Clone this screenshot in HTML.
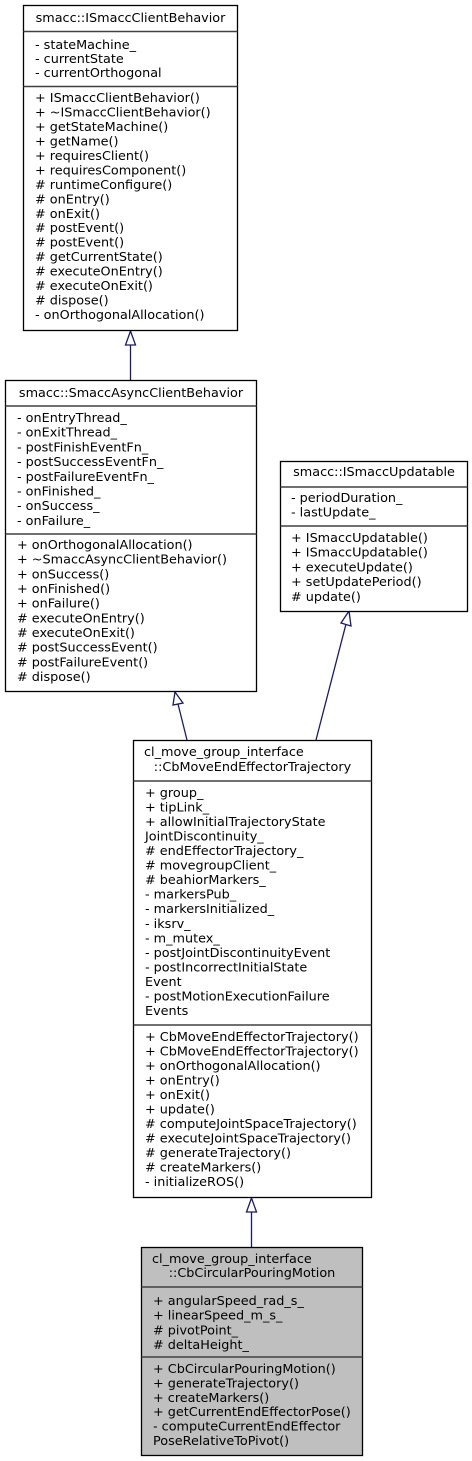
<!DOCTYPE html>
<html><head><meta charset="utf-8">
<style>
html,body{margin:0;padding:0;background:#fff;}
svg{display:block;}
text{font-family:"DejaVu Sans","Liberation Sans",sans-serif;font-size:12.8px;fill:#000;}
</style></head>
<body>
<svg width="472" height="1461" viewBox="0 0 472 1461" xmlns="http://www.w3.org/2000/svg">
<g stroke="#191970" stroke-width="1.3" fill="#fff">
<line x1="130.5" y1="380" x2="130.5" y2="345"/>
<polygon points="130.5,331 125.5,345 135.5,345"/>
<line x1="187" y1="740" x2="178" y2="704"/>
<polygon points="175,692 173,705 183,703"/>
<line x1="316" y1="740" x2="346" y2="624"/>
<polygon points="349,611 341,623 351,626"/>
<line x1="251.5" y1="1247" x2="251.5" y2="1212"/>
<polygon points="251.5,1198 246.5,1212 256.5,1212"/>
</g>
<g stroke="#000" stroke-width="1.3" fill="#fff">
<rect x="23.5" y="5.5" width="214" height="325"/>
<rect x="5.5" y="380.5" width="251" height="311"/>
<rect x="280.5" y="461.5" width="187" height="150"/>
<rect x="133.5" y="740.5" width="238" height="457"/>
<rect x="141.5" y="1247.5" width="221" height="208" fill="#bfbfbf"/>
</g>
<g stroke="#404040" stroke-width="1.5">
<line x1="23.5" y1="31.5" x2="237.5" y2="31.5"/>
<line x1="23.5" y1="86.5" x2="237.5" y2="86.5"/>
<line x1="5.5" y1="406" x2="256.5" y2="406"/>
<line x1="5.5" y1="534" x2="256.5" y2="534"/>
<line x1="280.5" y1="487" x2="467.5" y2="487"/>
<line x1="280.5" y1="526" x2="467.5" y2="526"/>
<line x1="133.5" y1="781" x2="371.5" y2="781"/>
<line x1="133.5" y1="1025" x2="371.5" y2="1025"/>
<line x1="141.5" y1="1287" x2="362.5" y2="1287"/>
<line x1="141.5" y1="1357" x2="362.5" y2="1357"/>
</g>
<text x="130.5" y="22" text-anchor="middle">smacc::ISmaccClientBehavior</text>
<text x="35" y="49">- stateMachine_</text>
<text x="35" y="63">- currentState</text>
<text x="35" y="77">- currentOrthogonal</text>
<text x="35" y="102">+ ISmaccClientBehavior()</text>
<text x="35" y="116.5">+ ~ISmaccClientBehavior()</text>
<text x="35" y="131">+ getStateMachine()</text>
<text x="35" y="145.4">+ getName()</text>
<text x="35" y="159.9">+ requiresClient()</text>
<text x="35" y="174.4">+ requiresComponent()</text>
<text x="35" y="188.8"># runtimeConfigure()</text>
<text x="35" y="203.3"># onEntry()</text>
<text x="35" y="217.8"># onExit()</text>
<text x="35" y="232.2"># postEvent()</text>
<text x="35" y="246.7"># postEvent()</text>
<text x="35" y="261.2"># getCurrentState()</text>
<text x="35" y="275.6"># executeOnEntry()</text>
<text x="35" y="290.1"># executeOnExit()</text>
<text x="35" y="304.6"># dispose()</text>
<text x="35" y="319">- onOrthogonalAllocation()</text>
<text x="131" y="397" text-anchor="middle">smacc::SmaccAsyncClientBehavior</text>
<text x="17" y="422">- onEntryThread_</text>
<text x="17" y="436.7">- onExitThread_</text>
<text x="17" y="451.4">- postFinishEventFn_</text>
<text x="17" y="466.1">- postSuccessEventFn_</text>
<text x="17" y="480.8">- postFailureEventFn_</text>
<text x="17" y="495.5">- onFinished_</text>
<text x="17" y="510.2">- onSuccess_</text>
<text x="17" y="525">- onFailure_</text>
<text x="17" y="549">+ onOrthogonalAllocation()</text>
<text x="17" y="563.7">+ ~SmaccAsyncClientBehavior()</text>
<text x="17" y="578.3">+ onSuccess()</text>
<text x="17" y="593">+ onFinished()</text>
<text x="17" y="607.7">+ onFailure()</text>
<text x="17" y="622.3"># executeOnEntry()</text>
<text x="17" y="637"># executeOnExit()</text>
<text x="17" y="651.7"># postSuccessEvent()</text>
<text x="17" y="666.3"># postFailureEvent()</text>
<text x="17" y="681"># dispose()</text>
<text x="374" y="476" text-anchor="middle">smacc::ISmaccUpdatable</text>
<text x="291" y="502">- periodDuration_</text>
<text x="291" y="516.5">- lastUpdate_</text>
<text x="291" y="542">+ ISmaccUpdatable()</text>
<text x="291" y="556.7">+ ISmaccUpdatable()</text>
<text x="291" y="571.5">+ executeUpdate()</text>
<text x="291" y="586.2">+ setUpdatePeriod()</text>
<text x="291" y="601"># update()</text>
<text x="144" y="756">cl_move_group_interface</text>
<text x="252.5" y="771" text-anchor="middle">::CbMoveEndEffectorTrajectory</text>
<text x="145" y="797">+ group_</text>
<text x="145" y="811.5">+ tipLink_</text>
<text x="145" y="826">+ allowInitialTrajectoryState</text>
<text x="145" y="840.6">JointDiscontinuity_</text>
<text x="145" y="855.1"># endEffectorTrajectory_</text>
<text x="145" y="869.6"># movegroupClient_</text>
<text x="145" y="884.2"># beahiorMarkers_</text>
<text x="145" y="898.7">- markersPub_</text>
<text x="145" y="913.2">- markersInitialized_</text>
<text x="145" y="927.8">- iksrv_</text>
<text x="145" y="942.3">- m_mutex_</text>
<text x="145" y="956.8">- postJointDiscontinuityEvent</text>
<text x="145" y="971.4">- postIncorrectInitialState</text>
<text x="145" y="985.9">Event</text>
<text x="145" y="1000.4">- postMotionExecutionFailure</text>
<text x="145" y="1015">Events</text>
<text x="145" y="1041">+ CbMoveEndEffectorTrajectory()</text>
<text x="145" y="1055.5">+ CbMoveEndEffectorTrajectory()</text>
<text x="145" y="1070">+ onOrthogonalAllocation()</text>
<text x="145" y="1084.5">+ onEntry()</text>
<text x="145" y="1099">+ onExit()</text>
<text x="145" y="1113.5">+ update()</text>
<text x="145" y="1128"># computeJointSpaceTrajectory()</text>
<text x="145" y="1142.5"># executeJointSpaceTrajectory()</text>
<text x="145" y="1157"># generateTrajectory()</text>
<text x="145" y="1171.5"># createMarkers()</text>
<text x="145" y="1186">- initializeROS()</text>
<text x="152" y="1263">cl_move_group_interface</text>
<text x="252" y="1277" text-anchor="middle">::CbCircularPouringMotion</text>
<text x="153" y="1305">+ angularSpeed_rad_s_</text>
<text x="153" y="1319.7">+ linearSpeed_m_s_</text>
<text x="153" y="1334.3"># pivotPoint_</text>
<text x="153" y="1349"># deltaHeight_</text>
<text x="153" y="1373">+ CbCircularPouringMotion()</text>
<text x="153" y="1387.4">+ generateTrajectory()</text>
<text x="153" y="1401.8">+ createMarkers()</text>
<text x="153" y="1416.2">+ getCurrentEndEffectorPose()</text>
<text x="153" y="1430.6">- computeCurrentEndEffector</text>
<text x="153" y="1445">PoseRelativeToPivot()</text>
</svg>
</body></html>
